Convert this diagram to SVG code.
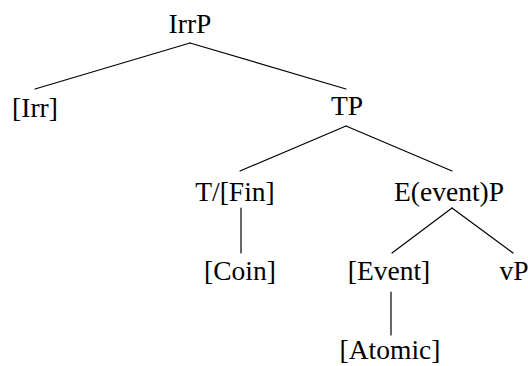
<svg xmlns="http://www.w3.org/2000/svg" width="528" height="366" viewBox="0 0 528 366">
  <style>
    .lbl { font-family: "Liberation Serif", "DejaVu Serif", serif; font-size: 27.5px; fill: #000; text-anchor: middle; }
    .edge { stroke: #000; stroke-width: 1.2; fill: none; stroke-linecap: round; }
  </style>
  <rect width="528" height="366" fill="#fff"/>
  <g id="connectors">
    <line class="edge" x1="190" y1="43" x2="35" y2="89"/>
    <line class="edge" x1="190" y1="43" x2="346" y2="89"/>
    <line class="edge" x1="346" y1="126" x2="240" y2="171"/>
    <line class="edge" x1="346" y1="126" x2="452" y2="171"/>
    <line class="edge" x1="241" y1="208" x2="241" y2="253"/>
    <line class="edge" x1="452" y1="208" x2="392" y2="253"/>
    <line class="edge" x1="452" y1="208" x2="513" y2="253"/>
    <line class="edge" x1="391" y1="292" x2="391" y2="335"/>
  </g>
  <g id="node-IrrP"><text class="lbl" x="190" y="33">IrrP</text></g>
  <g id="node-Irr"><text class="lbl" x="35" y="117">[Irr]</text></g>
  <g id="node-TP"><text class="lbl" x="347" y="115">TP</text></g>
  <g id="node-TFin"><text class="lbl" x="235" y="201">T/[Fin]</text></g>
  <g id="node-EventP"><text class="lbl" x="449" y="201">E(event)P</text></g>
  <g id="node-Coin"><text class="lbl" x="240" y="280">[Coin]</text></g>
  <g id="node-Event"><text class="lbl" x="389" y="280">[Event]</text></g>
  <g id="node-vP"><text class="lbl" x="514" y="280">vP</text></g>
  <g id="node-Atomic"><text class="lbl" x="390" y="359">[Atomic]</text></g>
</svg>
